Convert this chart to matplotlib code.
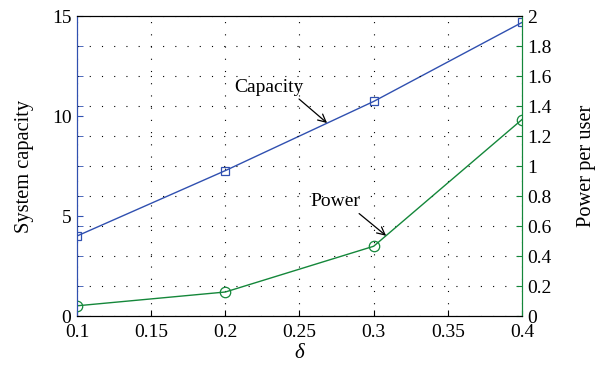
import numpy as np
import matplotlib
matplotlib.use("Agg")
import matplotlib.pyplot as plt

# data
delta = [0.1, 0.2, 0.3, 0.4]
capacity = [4.0, 7.27, 10.73, 14.68]
power = [0.068, 0.16, 0.465, 1.31]

blue = "#3050b0"
green = "#14873a"

plt.rcParams['font.family'] = ['Liberation Serif', 'DejaVu Serif']
plt.rcParams['font.size'] = 14

fig = plt.figure(figsize=(6, 3.73), dpi=100)
ax = fig.add_axes([0.1283, 0.1528, 0.7417, 0.8042])
ax2 = ax.twinx()

ax.plot(delta, capacity, color=blue, lw=1.0, marker="s", ms=6, mfc="none", mec=blue, mew=0.9)
ax2.plot(delta, power, color=green, lw=1.0, marker="o", ms=7.5, mfc="none", mec=green, mew=0.9)

ax.set_xlim(0.1, 0.4)
ax.set_ylim(0, 15)
ax2.set_ylim(0, 2)
ax.set_xticks([0.1, 0.15, 0.2, 0.25, 0.3, 0.35, 0.4])
ax.set_xticklabels(["0.1", "0.15", "0.2", "0.25", "0.3", "0.35", "0.4"])
ax.set_yticks([0, 5, 10, 15])
# right-axis tick positions also marked on the left spine
ax.set_yticks(np.arange(0, 15.01, 1.5), minor=True)
ax2.set_yticks(np.round(np.arange(0, 2.01, 0.2), 1))
ax2.set_yticklabels(["0", "0.2", "0.4", "0.6", "0.8", "1", "1.2", "1.4", "1.6", "1.8", "2"])

ax.tick_params(axis="x", direction="in", length=4, pad=6)
ax.tick_params(axis="y", which="both", direction="in", length=4, color=blue, pad=4)
ax2.tick_params(axis="y", direction="in", length=4, color=green, pad=4)

# dotted grid: verticals at x ticks, horizontals at right axis ticks
ax.grid(axis="x", linestyle=(0, (1, 10)), color="black", lw=0.8)
ax2.grid(axis="y", linestyle=(0, (1, 10)), color="black", lw=0.8)

for a in (ax, ax2):
    a.spines["left"].set_color(blue)
    a.spines["right"].set_color(green)
    a.spines["top"].set_color("black")
    a.spines["bottom"].set_color("black")

ax.set_ylabel("System capacity", fontsize=14.7, labelpad=13)
ax2.set_ylabel("Power per user", fontsize=14.7, labelpad=18)
ax.set_xlabel("δ", fontsize=15, style="italic", labelpad=2)

# labels and arrows
arrow = dict(arrowstyle="->", color="black", lw=0.9, shrinkA=0, shrinkB=0)
ax.text(0.2295, 11.45, "Capacity", ha="center", va="center")
ax.annotate("", xy=(0.2686, 9.65), xytext=(0.2497, 10.85), arrowprops=arrow)
ax2.text(0.274, 0.765, "Power", ha="center", va="center")
ax2.annotate("", xy=(0.3084, 0.535), xytext=(0.2902, 0.683), arrowprops=arrow)

fig.savefig("out.png", dpi=100)
